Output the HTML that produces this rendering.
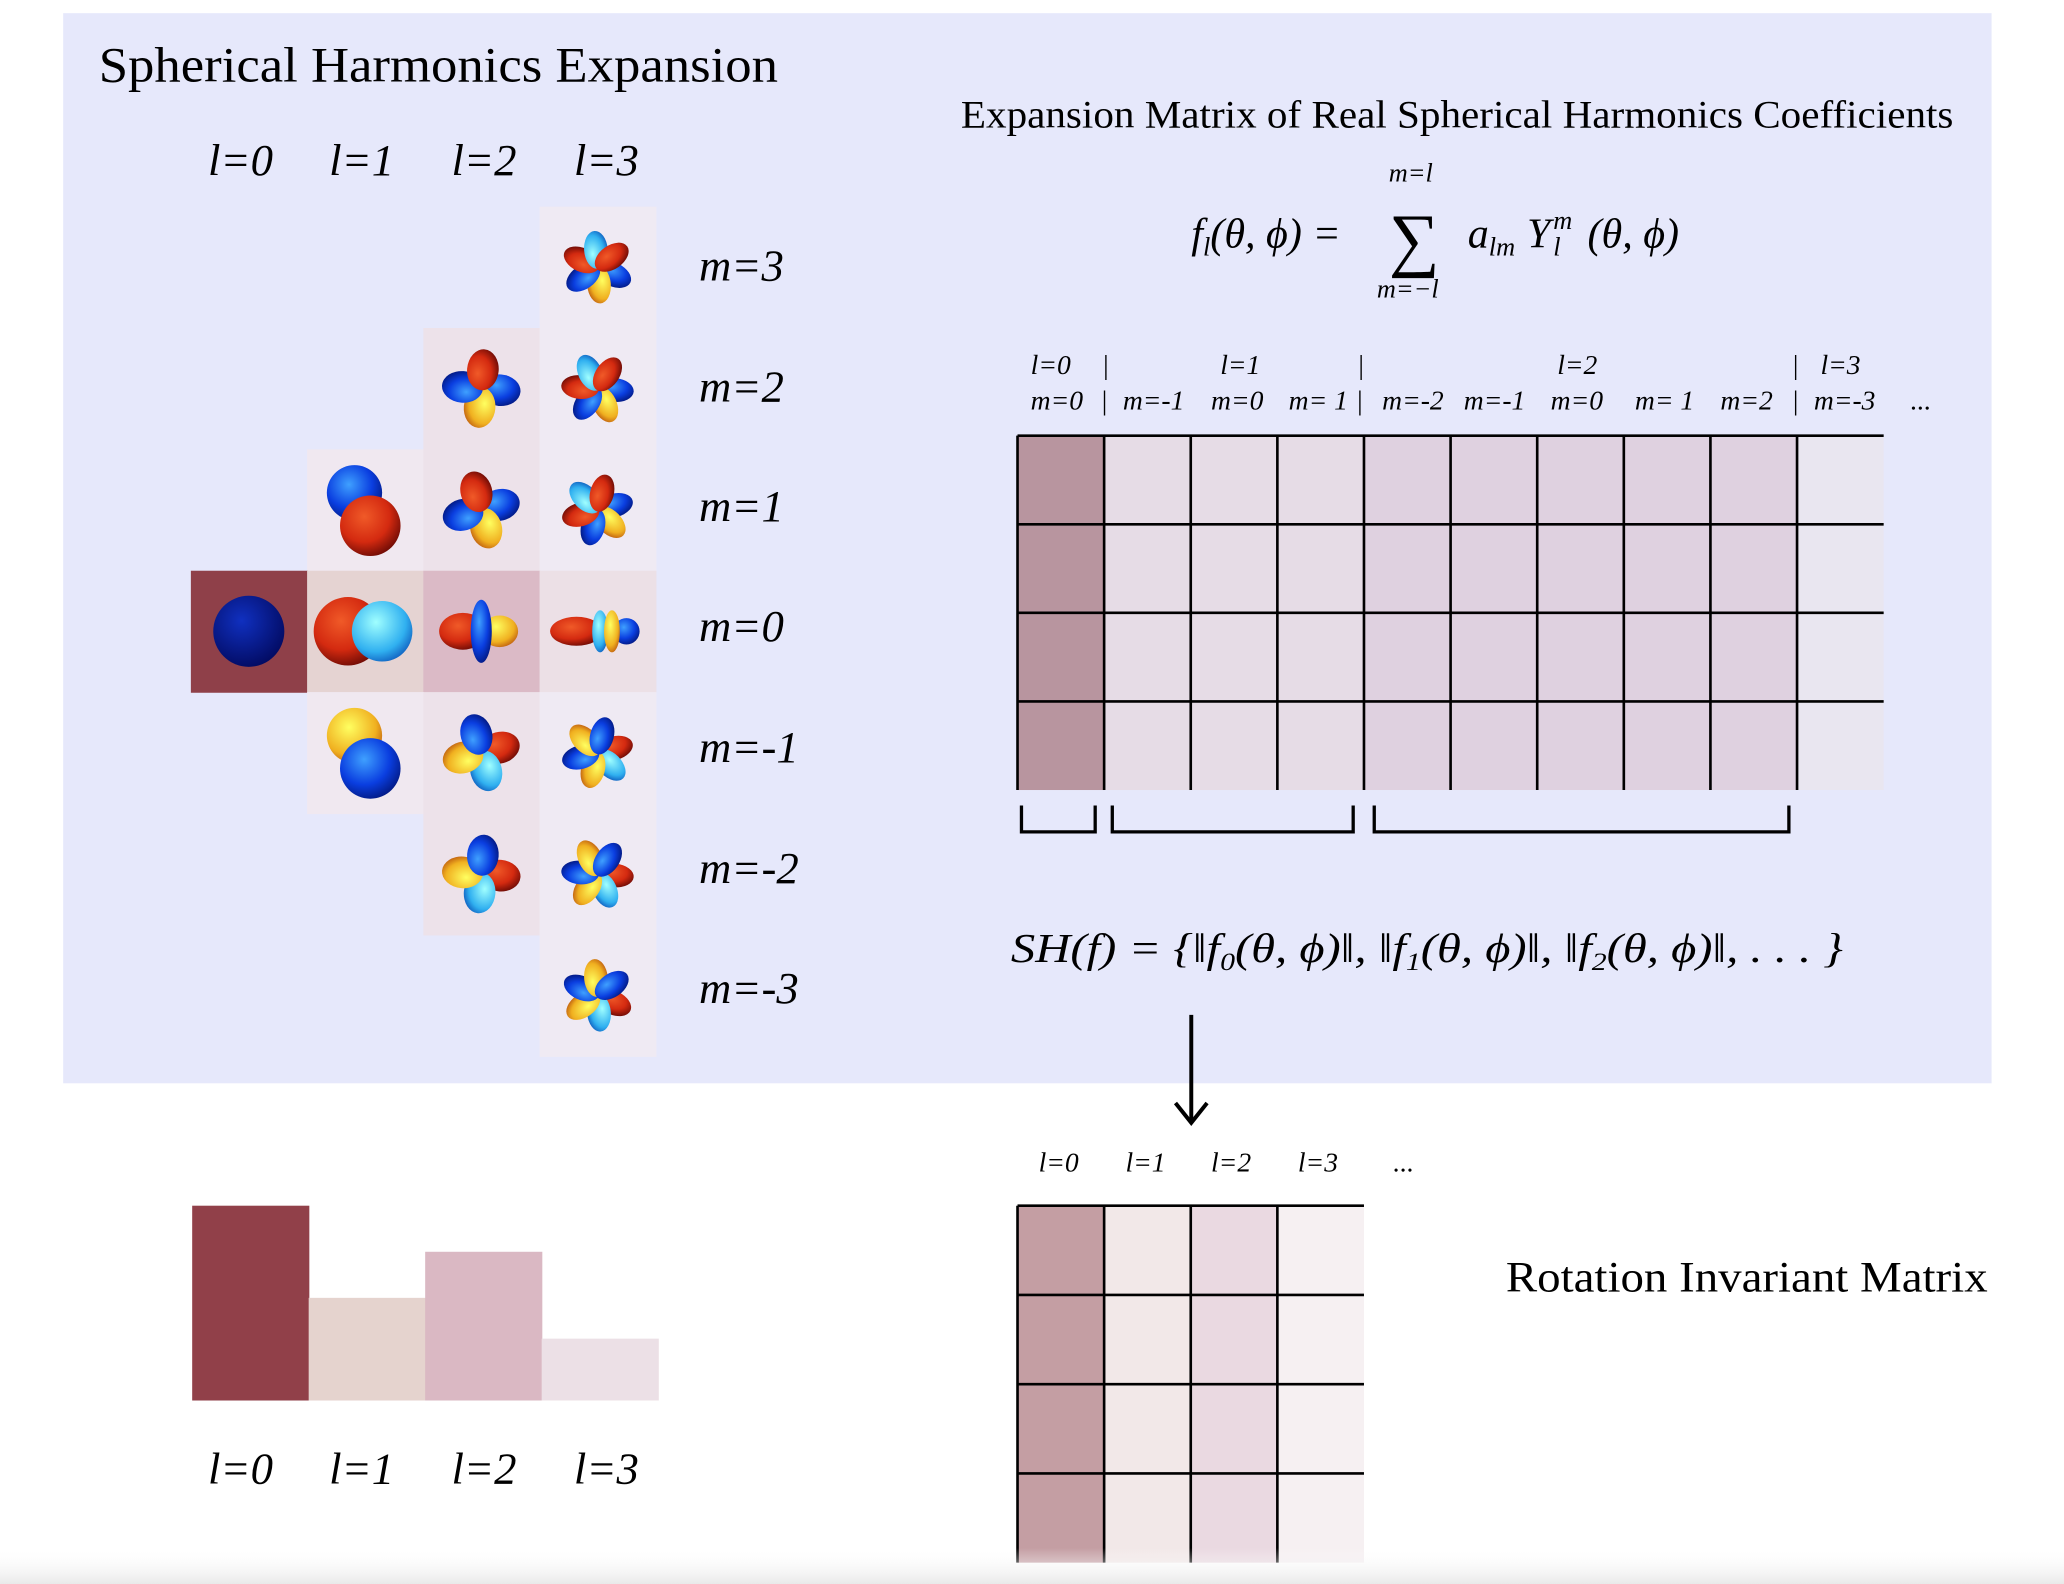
<!DOCTYPE html>
<html><head><meta charset="utf-8"><style>
html,body{margin:0;padding:0;background:#fff}
svg{display:block}
text{font-family:"Liberation Serif",serif;fill:#000}
.it{font-style:italic}
</style></head><body>
<svg width="2064" height="1584" viewBox="0 0 1568 1203.4" preserveAspectRatio="none" xmlns="http://www.w3.org/2000/svg">
<defs>
<radialGradient id="gR" cx="0.4" cy="0.35" r="0.7"><stop offset="0" stop-color="#f05a28"/><stop offset="0.6" stop-color="#d42a10"/><stop offset="1" stop-color="#6a0a05"/></radialGradient>
<radialGradient id="gB" cx="0.4" cy="0.35" r="0.7"><stop offset="0" stop-color="#3fa0ff"/><stop offset="0.6" stop-color="#0a3ee0"/><stop offset="1" stop-color="#021880"/></radialGradient>
<radialGradient id="gY" cx="0.4" cy="0.35" r="0.7"><stop offset="0" stop-color="#ffff60"/><stop offset="0.7" stop-color="#f0b020"/><stop offset="1" stop-color="#c06010"/></radialGradient>
<radialGradient id="gC" cx="0.4" cy="0.35" r="0.7"><stop offset="0" stop-color="#a0ffff"/><stop offset="0.7" stop-color="#30b0f0"/><stop offset="1" stop-color="#1060c0"/></radialGradient>
<radialGradient id="gD" cx="0.4" cy="0.35" r="0.7"><stop offset="0" stop-color="#1030c0"/><stop offset="1" stop-color="#020a60"/></radialGradient>
<linearGradient id="fade" x1="0" y1="0" x2="0" y2="1"><stop offset="0" stop-color="#fff" stop-opacity="0"/><stop offset="1" stop-color="#e8e8e8"/></linearGradient>
</defs>
<rect x="48" y="10" width="1465" height="813" fill="#e6e8fb"/>
<text x="75" y="62" font-size="38" textLength="516" lengthAdjust="spacingAndGlyphs">Spherical Harmonics Expansion</text>
<g font-size="34">
<text x="158" y="133" class="it">l=0</text><text x="250" y="133" class="it">l=1</text><text x="343" y="133" class="it">l=2</text><text x="436" y="133" class="it">l=3</text>
</g>
<g font-size="34">
<text x="531" y="213" class="it">m=3</text><text x="531" y="305" class="it">m=2</text><text x="531" y="396" class="it">m=1</text><text x="531" y="487" class="it">m=0</text><text x="531" y="579" class="it">m=-1</text><text x="531" y="671" class="it">m=-2</text><text x="531" y="762" class="it">m=-3</text>
</g>
<g id="cells"></g>
<text x="730" y="97" font-size="30" textLength="754" lengthAdjust="spacingAndGlyphs">Expansion Matrix of Real Spherical Harmonics Coefficients</text>
<g font-size="32">
<text x="905" y="188" class="it">f<tspan font-size="20" dy="6">l</tspan><tspan dy="-6">(θ, ϕ) =</tspan></text>
<text x="1055" y="138" font-size="20" class="it">m=l</text>
<text x="1055" y="200" font-size="54">∑</text>
<text x="1046" y="226" font-size="20" class="it">m=−l</text>
<text x="1115" y="188" class="it">a<tspan font-size="20" dy="6">lm</tspan></text>
<text x="1160" y="188" class="it">Y</text>
<text x="1180" y="174" font-size="20" class="it">m</text>
<text x="1180" y="194" font-size="20" class="it">l</text>
<text x="1206" y="188" class="it">(θ, ϕ)</text>
</g>
<g font-size="21">
<text x="783" y="284" class="it">l=0</text><text x="838" y="284">|</text>
<text x="927" y="284" class="it">l=1</text><text x="1032" y="284">|</text>
<text x="1183" y="284" class="it">l=2</text><text x="1362" y="284">|</text><text x="1383" y="284" class="it">l=3</text>
<text x="783" y="311" class="it">m=0</text><text x="837" y="311">|</text><text x="853" y="311" class="it">m=-1</text><text x="920" y="311" class="it">m=0</text><text x="979" y="311" class="it">m= 1</text><text x="1031" y="311">|</text>
<text x="1050" y="311" class="it">m=-2</text><text x="1112" y="311" class="it">m=-1</text><text x="1178" y="311" class="it">m=0</text><text x="1242" y="311" class="it">m= 1</text><text x="1307" y="311" class="it">m=2</text><text x="1362" y="311">|</text><text x="1378" y="311" class="it">m=-3</text><text x="1451" y="311">...</text>
</g>
<g id="mat"></g>
<g fill="none" stroke="#000" stroke-width="2.5">
<path d="M776 612 v20 h56 v-20"/><path d="M845 612 v20 h183 v-20"/><path d="M1044 612 v20 h315 v-20"/>
</g>
<text x="768" y="731" font-size="31" class="it" textLength="632" lengthAdjust="spacingAndGlyphs">SH(f) = {‖f<tspan font-size="19" dy="6">0</tspan><tspan dy="-6">(θ, ϕ)‖, ‖f</tspan><tspan font-size="19" dy="6">1</tspan><tspan dy="-6">(θ, ϕ)‖, ‖f</tspan><tspan font-size="19" dy="6">2</tspan><tspan dy="-6">(θ, ϕ)‖, . . . }</tspan></text>
<g stroke="#000" stroke-width="3" fill="none"><path d="M905 771 V852"/><path d="M893 838 L905 853 L917 838"/></g>
<g font-size="21">
<text x="789" y="890" class="it">l=0</text><text x="855" y="890" class="it">l=1</text><text x="920" y="890" class="it">l=2</text><text x="986" y="890" class="it">l=3</text><text x="1058" y="890">...</text>
</g>
<g id="inv"></g>
<text x="1144" y="981" font-size="33" textLength="366" lengthAdjust="spacingAndGlyphs">Rotation Invariant Matrix</text>
<g id="bars"></g>
<g font-size="34">
<text x="158" y="1127" class="it">l=0</text><text x="250" y="1127" class="it">l=1</text><text x="343" y="1127" class="it">l=2</text><text x="436" y="1127" class="it">l=3</text>
</g>
<rect x="0" y="1176" width="1568" height="28" fill="url(#fade)"/>
</svg>
<script>
const NS='http://www.w3.org/2000/svg';
// bar chart data
const barCategories=['l=0','l=1','l=2','l=3'];
const barValues=[148,78,113,47];
const barColors=['#914049','#e5d3ce','#dab8c3','#ece0e6'];
// coefficient matrix columns (l index per column)
const matCols=[0,1,1,1,2,2,2,2,2,3];
const matRows=4;
const matColorsByL=['#b8959f','#e6dce6','#dfd1e0','#e9e6f0'];
const invCols=[0,1,2,3];
const invColorsByL=['#c49ea3','#f2e8e8','#ead9e1','#f6f0f2'];
// harmonic grid cells: [l, m, color]
const gridCells=[[3,3,'#efeaf3'],[2,2,'#ede2ea'],[3,2,'#efeaf3'],[1,1,'#f0e8f0'],[2,1,'#ede2ea'],[3,1,'#efeaf3'],
[0,0,'#8f4049'],[1,0,'#e5d3d2'],[2,0,'#dbbac6'],[3,0,'#ece0e6'],[1,-1,'#f0e8f0'],[2,-1,'#ede2ea'],[3,-1,'#efeaf3'],[2,-2,'#ede2ea'],[3,-2,'#efeaf3'],[3,-3,'#efeaf3']];

function mk(tag,attrs,parent){const e=document.createElementNS(NS,tag);for(const k in attrs)e.setAttribute(k,attrs[k]);parent.appendChild(e);return e;}
const gx=l=>145+l*88.3, gy=m=>157+(3-m)*92.2;
const cells=document.getElementById('cells');
gridCells.forEach(([l,m,c])=>{
 const r=mk('rect',{x:gx(l),y:gy(m),width:88.8,height:92.7,fill:c},cells);
 
 
 const cx=gx(l)+44, cy=gy(m)+46;
 const g=mk('g',{},cells);
 
 
 if(l===0){mk('circle',{cx:cx,cy:cy,r:27,fill:'url(#gD)'},g);}
 else if(m===0){
  if(l===1){mk('circle',{cx:cx-13,cy:cy,r:26,fill:'url(#gR)'},g);mk('circle',{cx:cx+13,cy:cy,r:23,fill:'url(#gC)'},g);}
  else if(l===2){mk('ellipse',{cx:cx-14,cy:cy,rx:18,ry:14,fill:'url(#gR)'},g);mk('ellipse',{cx:cx+14,cy:cy,rx:14,ry:12,fill:'url(#gY)'},g);mk('ellipse',{cx:cx,cy:cy,rx:8,ry:24,fill:'url(#gB)'},g);}
  else {mk('ellipse',{cx:cx-16,cy:cy,rx:20,ry:11,fill:'url(#gR)'},g);mk('ellipse',{cx:cx+22,cy:cy,rx:10,ry:10,fill:'url(#gB)'},g);mk('ellipse',{cx:cx+2,cy:cy,rx:6,ry:16,fill:'url(#gC)'},g);mk('ellipse',{cx:cx+11,cy:cy,rx:6,ry:16,fill:'url(#gY)'},g);}
 } else if(l===1){
  const top=m>0?'url(#gB)':'url(#gY)', bot=m>0?'url(#gR)':'url(#gB)';
  mk('circle',{cx:cx-8,cy:cy-13,r:21,fill:top},g);mk('circle',{cx:cx+4,cy:cy+12,r:23,fill:bot},g);
 } else {
  const n=l===2?4:6, a0=Math.abs(m)*20-35, len=l===2?26:24, w=l===2?12:9;
  const cols=m>0?['url(#gB)','url(#gY)','url(#gB)','url(#gR)','url(#gC)','url(#gR)']:['url(#gR)','url(#gC)','url(#gY)','url(#gB)','url(#gY)','url(#gB)'];
  for(let i=0;i<n;i++){const a=a0+i*360/n;const ex=cx+len*0.55*Math.cos(a*Math.PI/180), ey=cy+len*0.55*Math.sin(a*Math.PI/180);mk('ellipse',{cx:ex,cy:ey,rx:len*0.6,ry:w,fill:cols[i%cols.length],transform:`rotate(${a} ${ex} ${ey})`},g);}
 }
});
// coefficient matrix
const mat=document.getElementById('mat');
const mx0=773,mw=65.8,my0=331,mh=67.3;
matCols.forEach((l,i)=>{for(let j=0;j<matRows;j++){const r=mk('rect',{x:mx0+i*mw,y:my0+j*mh,width:mw,height:mh,fill:matColorsByL[l]},mat);}});
for(let j=0;j<matRows;j++)mk('line',{x1:mx0,x2:mx0+matCols.length*mw,y1:my0+j*mh,y2:my0+j*mh,stroke:'#000','stroke-width':2},mat);
for(let i=0;i<matCols.length;i++)mk('line',{x1:mx0+i*mw,x2:mx0+i*mw,y1:my0,y2:my0+matRows*mh,stroke:'#000','stroke-width':2},mat);
// invariant matrix
const inv=document.getElementById('inv');
const iy0=916,ih=67.8;
invCols.forEach((l,i)=>{for(let j=0;j<4;j++){const r=mk('rect',{x:mx0+i*mw,y:iy0+j*ih,width:mw,height:ih,fill:invColorsByL[l]},inv);}});
for(let j=0;j<4;j++)mk('line',{x1:mx0,x2:mx0+invCols.length*mw,y1:iy0+j*ih,y2:iy0+j*ih,stroke:'#000','stroke-width':2},inv);
for(let i=0;i<invCols.length;i++)mk('line',{x1:mx0+i*mw,x2:mx0+i*mw,y1:iy0,y2:iy0+4*ih,stroke:'#000','stroke-width':2},inv);
// bars
const bars=document.getElementById('bars');
const base=1064, bx=i=>146+i*88.5;
barValues.forEach((v,i)=>{const r=mk('rect',{x:bx(i),y:base-v,width:89,height:v,fill:barColors[i]},bars);
  });
</script>
</body></html>
